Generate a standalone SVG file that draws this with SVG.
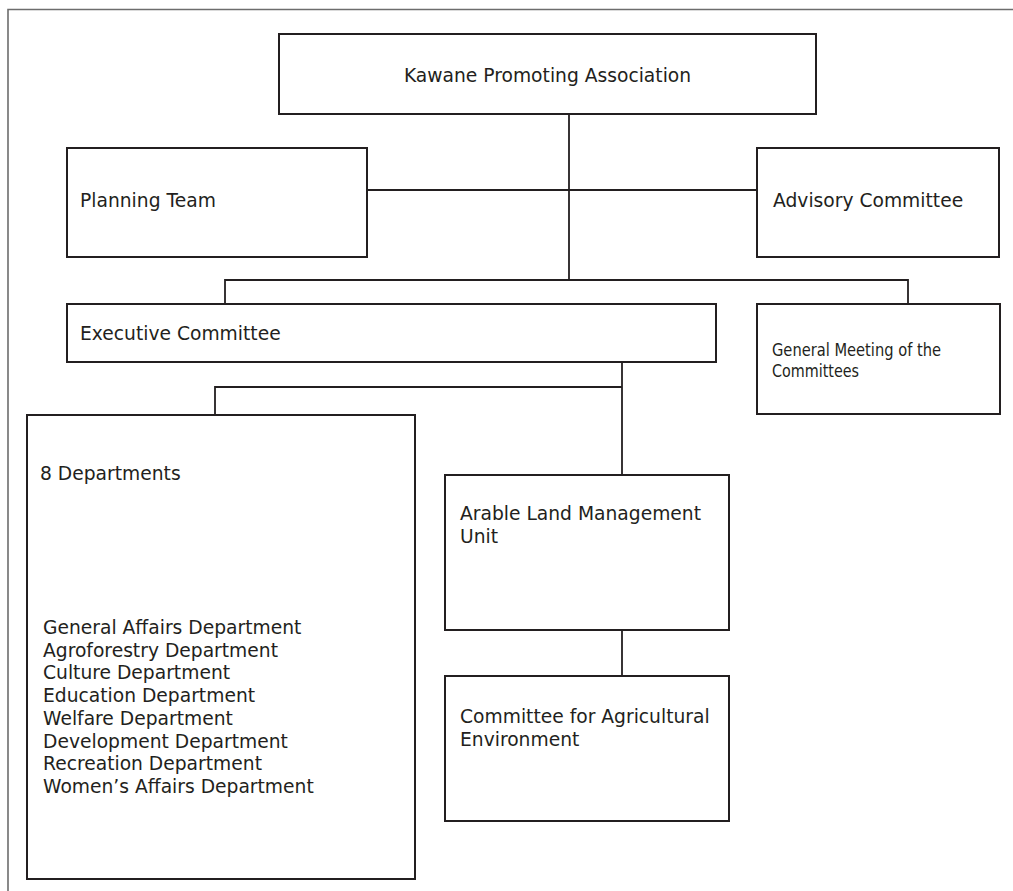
<svg xmlns="http://www.w3.org/2000/svg" width="1013" height="891" viewBox="0 0 1013 891">
<style>
.box{fill:#fff;stroke:#231f20;stroke-width:2}
.ln{fill:none;stroke:#231f20;stroke-width:1.8}
.t{font-family:"DejaVu Sans","Verdana",sans-serif;font-size:18.7px;fill:#231f20}
.c{font-family:"DejaVu Sans Condensed","DejaVu Sans",sans-serif;font-size:18.5px;fill:#231f20}
</style>
<rect width="1013" height="891" fill="#fff"/>
<g id="frame"><path d="M8 891 V9.5 H1013" fill="none" stroke="#6d6d6d" stroke-width="1.6"/></g>
<g id="connectors">
<path class="ln" d="M569 114 V280"/>
<path class="ln" d="M367 190 H757"/>
<path class="ln" d="M225 304 V280 H908 V304"/>
<path class="ln" d="M622 362 V475"/>
<path class="ln" d="M215 415 V387 H622"/>
<path class="ln" d="M622 630 V676"/>
</g>
<g id="kawane"><rect class="box" x="279" y="34" width="537" height="80"/><text class="t" x="547.5" y="82" text-anchor="middle">Kawane Promoting Association</text></g>
<g id="planning"><rect class="box" x="67" y="148" width="300" height="109"/><text class="t" x="80" y="207">Planning Team</text></g>
<g id="advisory"><rect class="box" x="757" y="148" width="242" height="109"/><text class="t" x="773" y="207">Advisory Committee</text></g>
<g id="executive"><rect class="box" x="67" y="304" width="649" height="58"/><text class="t" x="80" y="340">Executive Committee</text></g>
<g id="general-meeting"><rect class="box" x="757" y="304" width="243" height="110"/><text class="c" x="772" y="356" textLength="169" lengthAdjust="spacingAndGlyphs">General Meeting of the</text><text class="c" x="772" y="377" textLength="87" lengthAdjust="spacingAndGlyphs">Committees</text></g>
<g id="departments"><rect class="box" x="27" y="415" width="388" height="464"/><text class="t" x="40" y="480">8 Departments</text>
<text class="t" x="43" y="634">General Affairs Department</text>
<text class="t" x="43" y="656.7">Agroforestry Department</text>
<text class="t" x="43" y="679.4">Culture Department</text>
<text class="t" x="43" y="702.1">Education Department</text>
<text class="t" x="43" y="724.8">Welfare Department</text>
<text class="t" x="43" y="747.5">Development Department</text>
<text class="t" x="43" y="770.2">Recreation Department</text>
<text class="t" x="43" y="792.9">Women’s Affairs Department</text></g>
<g id="arable"><rect class="box" x="445" y="475" width="284" height="155"/><text class="t" x="460" y="520">Arable Land Management</text><text class="t" x="460" y="543">Unit</text></g>
<g id="agri-committee"><rect class="box" x="445" y="676" width="284" height="145"/><text class="t" x="460" y="723">Committee for Agricultural</text><text class="t" x="460" y="746">Environment</text></g>
</svg>
